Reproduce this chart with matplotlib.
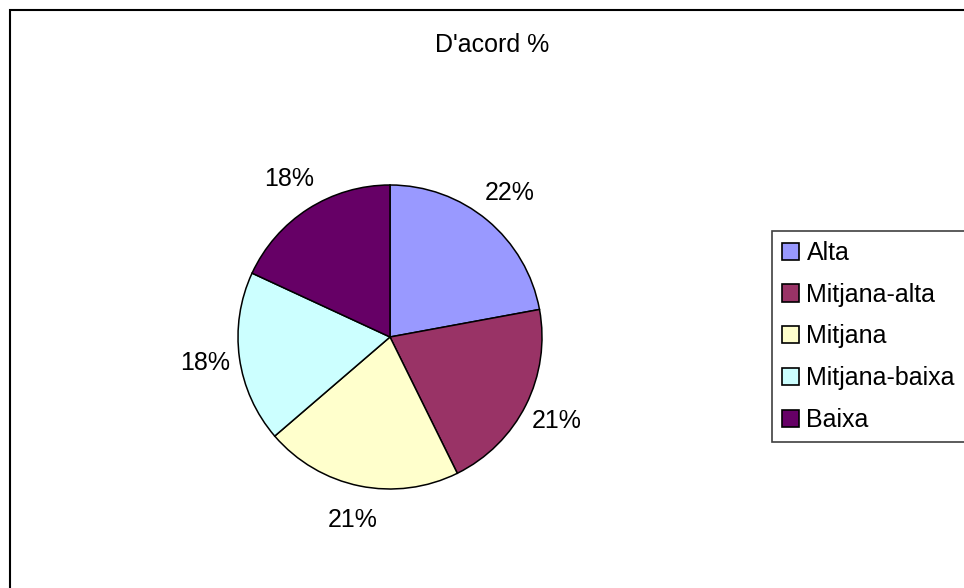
import matplotlib
matplotlib.use("Agg")
import matplotlib.pyplot as plt
from matplotlib.patches import Rectangle

plt.rcParams['font.family'] = ['Liberation Sans', 'DejaVu Sans']

# share of "agree" answers per income level
categories = ['Alta', 'Mitjana-alta', 'Mitjana', 'Mitjana-baixa', 'Baixa']
values = [22.1, 20.6, 21.0, 18.2, 18.1]
colors = ['#9999FF', '#993366', '#FFFFCC', '#CCFFFF', '#660066']

W, H = 964, 588
fig = plt.figure(figsize=(W / 100, H / 100), dpi=100)

# outer chart frame (only top and left edges fall inside the image)
fig.patches.append(Rectangle((9.5 / W, -0.1), 1.2, 1.1 - 10.5 / H,
                             transform=fig.transFigure, fill=False,
                             edgecolor='black', linewidth=1.5))

fig.text(492 / W, 1 - 45 / H, "D'acord %", ha='center', va='center', fontsize=18)

# square axes holding the pie, centred at (390, 337) px with radius 152 px
cx, cy, r = 390, 337, 152
ax = fig.add_axes([(cx - r) / W, (H - cy - r) / H, 2 * r / W, 2 * r / H])
wedges, _, autotexts = ax.pie(values, colors=colors, startangle=90, counterclock=False,
                              autopct='%.0f%%', pctdistance=1.23,
                              wedgeprops=dict(edgecolor='black', linewidth=1.1))
for t in autotexts:
    t.set_fontsize(18)
ax.set_xlim(-1, 1)
ax.set_ylim(-1, 1)
ax.axis('off')

leg = fig.legend(wedges, categories, loc='upper left',
                 bbox_to_anchor=(772 / W, 1 - 231 / H), borderaxespad=0,
                 fontsize=18, handlelength=0.68, handleheight=0.68,
                 handletextpad=0.3, labelspacing=0.71, borderpad=0.4,
                 fancybox=False, framealpha=1)
leg.get_frame().set_edgecolor('#404040')
leg.get_frame().set_linewidth(1.2)
for h in leg.legend_handles:
    h.set_edgecolor('black')
    h.set_linewidth(1.2)

fig.savefig('out.png', dpi=100)
